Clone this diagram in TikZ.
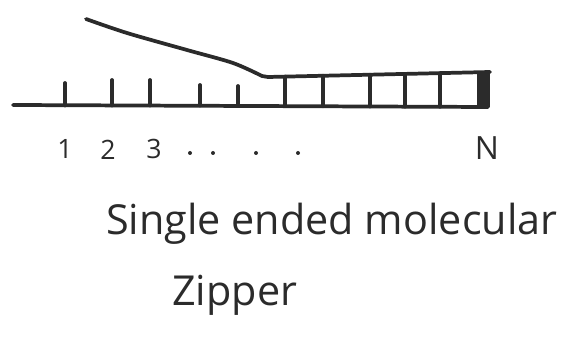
\documentclass[tikz,border=0pt]{standalone}
\usepackage{fontspec}
\setmainfont{Open Sans}
\usetikzlibrary{positioning}

\definecolor{ink}{HTML}{2B2B2B}
\tikzset{
  strand/.style={ink, line width=2.8pt, line cap=round, line join=round},
  numlabel/.style={ink, font=\fontsize{20}{22}\selectfont, inner sep=0pt},
  caption/.style={ink, font=\fontsize{31}{34}\selectfont, inner sep=0pt, anchor=west}
}

\begin{document}
\begin{tikzpicture}[x=0.75pt, y=-0.75pt]
    \useasboundingbox (0,0) rectangle (565,338);

    % lower strand
    \draw[strand] (13,105) -- (488,107);

    % open bonds, 1 .. 5
    \foreach \x/\t in {65/83, 112/80, 150/80, 200/85, 238/86}
        \draw[strand] (\x,\t) -- (\x,105.5);

    % upper strand, peeled off at the left
    \draw[strand] plot[smooth, tension=0.5] coordinates {(86,19) (127,33) (187,50) (233,63) (262,76)}
        -- (268,77) -- (490,72);

    % closed bonds
    \foreach \x in {285, 323, 370, 405, 440}
        \draw[strand] (\x,{77-5*(\x-268)/222}) -- (\x,{105+2*(\x-13)/475});
    \fill[ink] (477,72) rectangle (490,107);

    % numbering
    \node[numlabel] (lbl1) at (65,149) {1};
    \node[numlabel] (lbl2) at (108,150) {2};
    \node[numlabel] (lbl3) at (154,149) {3};
    \foreach \x in {190, 213, 256, 298}
        \fill[ink] (\x,153) circle (1.5pt);
    \node[numlabel, font=\fontsize{24}{26}\selectfont] (lblN) at (487,148) {N};

    \node[caption] (title) at (106,224) {Single ended molecular};
    \node[caption] (zip) at (172,295) {Zipper};
\end{tikzpicture}
\end{document}
